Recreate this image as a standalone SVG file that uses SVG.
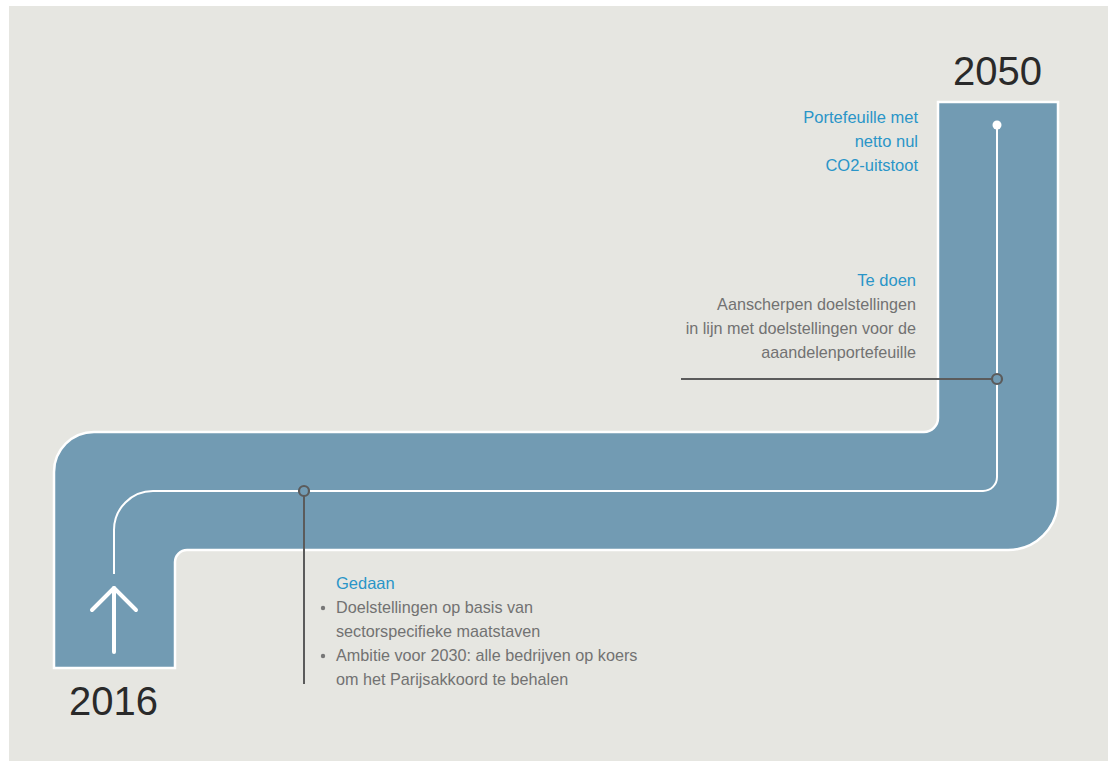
<svg xmlns="http://www.w3.org/2000/svg" width="1108" height="761" viewBox="0 0 1108 761">
  <style>
    .yr { font-family: "Liberation Sans", Arial, sans-serif; font-size: 40px; fill: #2a2a2a; }
    .blue { font-family: "Liberation Sans", Arial, sans-serif; font-size: 16.5px; fill: #2a95c8; }
    .grey { font-family: "Liberation Sans", Arial, sans-serif; font-size: 16.2px; fill: #727272; }
    .band { fill: #729bb3; stroke: #ffffff; stroke-width: 2.5; }
    .track { fill: none; stroke: #ffffff; stroke-width: 2; }
    .lead { fill: none; stroke: #5b5b5b; stroke-width: 2; }
    .ring { fill: #729bb3; stroke: #5b5b5b; stroke-width: 2.2; }
  </style>
  <rect x="9" y="6" width="1099" height="755" fill="#e6e6e1"/>

  <g id="road">
    <path class="band" d="M54,668 L54,472 A40,40 0 0 1 94,432 L924,432 A14,14 0 0 0 938,418 L938,102 L1058,102 L1058,500 A50,50 0 0 1 1008,550 L187,550 A12,12 0 0 0 175,562 L175,668 Z"/>
    <path class="track" d="M114,574 L114,530 A39,39 0 0 1 153,491 L983,491 A14,14 0 0 0 997,477 L997,125"/>
    <circle cx="997" cy="125" r="4.5" fill="#ffffff"/>
    <g fill="none" stroke="#ffffff" stroke-width="4" stroke-linecap="round" stroke-linejoin="round">
      <line x1="114" y1="588" x2="114" y2="652"/>
      <polyline points="92,610 114,588 136,610"/>
    </g>
  </g>

  <g id="connectors">
    <line class="lead" x1="304" y1="496" x2="304" y2="684"/>
    <line class="lead" x1="681" y1="379" x2="992" y2="379"/>
    <circle class="ring" cx="304" cy="491" r="5"/>
    <circle class="ring" cx="997" cy="379" r="5"/>
  </g>

  <g id="year-2050">
    <text class="yr" x="953" y="85">2050</text>
  </g>
  <g id="year-2016">
    <text class="yr" x="69" y="715">2016</text>
  </g>

  <g id="goal">
    <text class="blue" text-anchor="end" x="918" y="123">Portefeuille met</text>
    <text class="blue" text-anchor="end" x="918" y="147">netto nul</text>
    <text class="blue" text-anchor="end" x="918" y="171">CO2-uitstoot</text>
  </g>

  <g id="te-doen">
    <text class="blue" text-anchor="end" x="916" y="286">Te doen</text>
    <text class="grey" text-anchor="end" x="916" y="310">Aanscherpen doelstellingen</text>
    <text class="grey" text-anchor="end" x="916" y="334">in lijn met doelstellingen voor de</text>
    <text class="grey" text-anchor="end" x="916" y="358">aaandelenportefeuille</text>
  </g>

  <g id="gedaan">
    <text class="blue" x="336" y="589">Gedaan</text>
    <circle cx="323" cy="608" r="2.2" fill="#777777"/>
    <text class="grey" x="336" y="613">Doelstellingen op basis van</text>
    <text class="grey" x="336" y="637">sectorspecifieke maatstaven</text>
    <circle cx="323" cy="656" r="2.2" fill="#777777"/>
    <text class="grey" x="336" y="661">Ambitie voor 2030: alle bedrijven op koers</text>
    <text class="grey" x="336" y="685">om het Parijsakkoord te behalen</text>
  </g>
</svg>
